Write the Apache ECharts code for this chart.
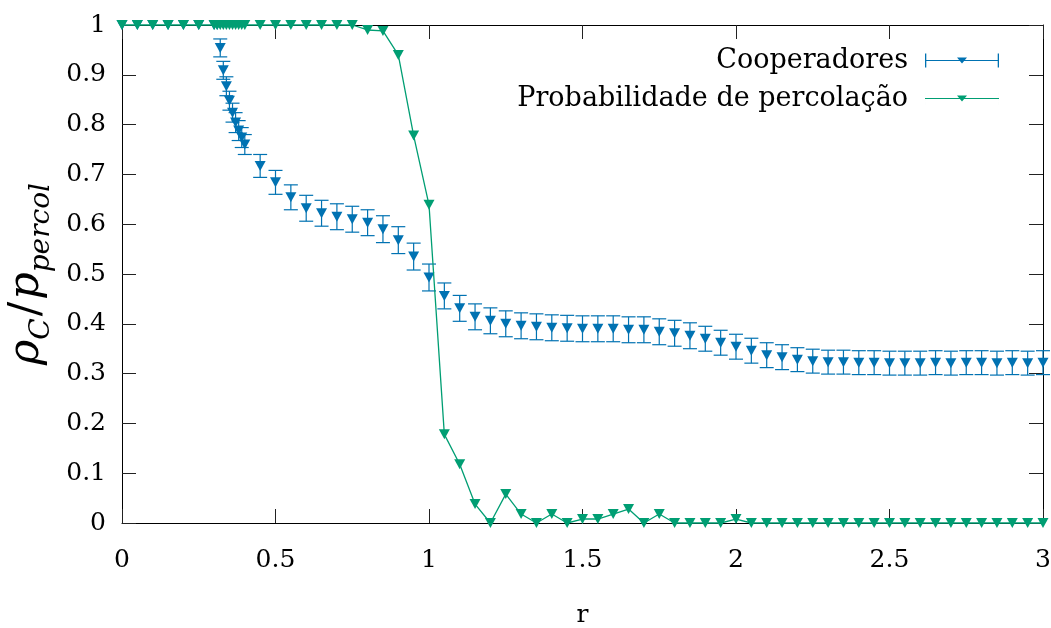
<!DOCTYPE html>
<html>
<head>
<meta charset="utf-8">
<script src="https://cdn.jsdelivr.net/npm/echarts@6/dist/echarts.min.js"></script>
<style>
  html, body { margin: 0; padding: 0; background: #fff; }
  #chart { width: 1051px; height: 628px; }
</style>
</head>
<body>
<div id="chart"></div>
<script>
// r values: coarse grid, dense grid 0.30..0.40, then coarse again
const rValues = [
    0, 0.05, 0.1, 0.15, 0.2, 0.25,
    0.30, 0.31, 0.32, 0.33, 0.34, 0.35, 0.36, 0.37, 0.38, 0.39, 0.40,
    0.45, 0.5, 0.55, 0.6, 0.65, 0.7, 0.75, 0.8, 0.85, 0.9, 0.95,
    1.0, 1.05, 1.1, 1.15, 1.2, 1.25, 1.3, 1.35, 1.4, 1.45,
    1.5, 1.55, 1.6, 1.65, 1.7, 1.75, 1.8, 1.85, 1.9, 1.95,
    2.0, 2.05, 2.1, 2.15, 2.2, 2.25, 2.3, 2.35, 2.4, 2.45,
    2.5, 2.55, 2.6, 2.65, 2.7, 2.75, 2.8, 2.85, 2.9, 2.95, 3.0
];

// Cooperadores (rho_C)
const coopValues = [
    1, 1, 1, 1, 1, 1,
    1, 1, 0.954, 0.909, 0.877, 0.848, 0.824, 0.804, 0.788, 0.774, 0.760,
    0.717, 0.684, 0.654, 0.632, 0.622, 0.615, 0.610, 0.603, 0.590, 0.568, 0.535,
    0.493, 0.456, 0.431, 0.414, 0.406, 0.400, 0.396, 0.394, 0.392, 0.391,
    0.390, 0.390, 0.390, 0.388, 0.388, 0.384, 0.381, 0.376, 0.370, 0.362,
    0.354, 0.346, 0.337, 0.333, 0.328, 0.325, 0.323, 0.323, 0.322, 0.322,
    0.321, 0.321, 0.321, 0.322, 0.321, 0.322, 0.322, 0.321, 0.322, 0.321, 0.322
];
const coopErrors = [
    0, 0, 0, 0, 0, 0,
    0, 0, 0.018, 0.018, 0.019, 0.019, 0.019, 0.02, 0.02, 0.02, 0.02,
    0.023, 0.024, 0.025, 0.026, 0.026, 0.026, 0.026, 0.026, 0.027, 0.027, 0.027,
    0.027, 0.026, 0.026, 0.026, 0.026, 0.026, 0.026, 0.026, 0.026, 0.026,
    0.026, 0.026, 0.026, 0.026, 0.026, 0.026, 0.026, 0.026, 0.025, 0.025,
    0.025, 0.025, 0.025, 0.025, 0.024, 0.024, 0.024, 0.024, 0.024, 0.024,
    0.024, 0.024, 0.024, 0.024, 0.024, 0.024, 0.024, 0.024, 0.024, 0.024, 0.024
];

// Probabilidade de percolacao
const percValues = [
    1, 1, 1, 1, 1, 1,
    1, 1, 1, 1, 1, 1, 1, 1, 1, 1, 1,
    1, 1, 1, 1, 1, 1, 1, 0.99, 0.988, 0.94, 0.778,
    0.639, 0.178, 0.118, 0.038, 0, 0.058, 0.018, 0, 0.018, 0,
    0.008, 0.008, 0.018, 0.028, 0, 0.018, 0, 0, 0, 0,
    0.008, 0, 0, 0, 0, 0, 0, 0, 0, 0,
    0, 0, 0, 0, 0, 0, 0, 0, 0, 0, 0
];

const blue = '#0072b2';
const green = '#009e73';
const font = 'DejaVu Serif';

const coopData = rValues.map((r, i) => [r, coopValues[i], coopErrors[i]]);
const percData = rValues.map((r, i) => [r, percValues[i]]);

let myChart = echarts.init(document.getElementById('chart'));

function errorBar(params, api) {
    let x = api.value(0), y = api.value(1), e = api.value(2);
    if (!e) return;
    let top = api.coord([x, y + e]);
    let bot = api.coord([x, y - e]);
    let w = 7;
    let st = { stroke: blue, lineWidth: 1.2 };
    return {
        type: 'group',
        children: [
            { type: 'line', shape: { x1: top[0], y1: top[1], x2: bot[0], y2: bot[1] }, style: st },
            { type: 'line', shape: { x1: top[0] - w, y1: top[1], x2: top[0] + w, y2: top[1] }, style: st },
            { type: 'line', shape: { x1: bot[0] - w, y1: bot[1], x2: bot[0] + w, y2: bot[1] }, style: st }
        ]
    };
}

const axisCommon = {
    axisLine: { show: true, onZero: false, lineStyle: { color: '#000', width: 1 } },
    axisTick: { show: true, inside: true, length: 14, lineStyle: { color: '#222', width: 1 } },
    splitLine: { show: false }
};

let option = {
    backgroundColor: '#fff',
    animation: false,
    grid: { left: 122, right: 8, top: 25, bottom: 105, outerBoundsMode: 'none' },
    legend: [
        {
            data: [{ name: 'Cooperadores', itemStyle: { color: blue } }],
            right: 47,
            top: 42,
            align: 'right',
            selectedMode: false,
            itemWidth: 74,
            itemHeight: 14,
            icon: 'path://M0,0h1.3v14h-1.3z M0,6.4h74v1.2h-74z M72.7,0h1.3v14h-1.3z M32,4h10l-5,6z',
            textStyle: { fontFamily: font, fontSize: 27, color: '#000', padding: [0, 12, 0, 0] }
        },
        {
            data: [{ name: 'Probabilidade de percolação', itemStyle: { color: green } }],
            right: 47,
            top: 80,
            align: 'right',
            selectedMode: false,
            itemWidth: 74,
            itemHeight: 14,
            icon: 'path://M0,0h0.01v14h-0.01z M0,6.4h74v1.2h-74z M73.99,0h0.01v14h-0.01z M32,4h10l-5,6z',
            textStyle: { fontFamily: font, fontSize: 27, color: '#000', padding: [0, 12, 0, 0] }
        }
    ],
    xAxis: [
        Object.assign({
            type: 'value', position: 'bottom', min: 0, max: 3, interval: 0.5,
            name: 'r', nameLocation: 'middle', nameGap: 80,
            nameTextStyle: { fontFamily: font, fontSize: 25, color: '#000' },
            axisLabel: { fontFamily: font, fontSize: 25, color: '#000', margin: 25 }
        }, axisCommon),
        Object.assign({
            type: 'value', position: 'top', min: 0, max: 3, interval: 0.5,
            axisLabel: { show: false }
        }, axisCommon)
    ],
    yAxis: [
        Object.assign({
            type: 'value', position: 'left', min: 0, max: 1, interval: 0.1,
            name: '{a|ρ}{b|C}{c|/}{a|p}{b|percol}',
            nameLocation: 'middle', nameGap: 62, nameRotate: 90,
            nameTextStyle: {
                color: '#000',
                rich: {
                    a: { fontFamily: font, fontStyle: 'italic', fontSize: 43, color: '#000', verticalAlign: 'bottom', padding: [0, 0, 7, 0] },
                    b: { fontFamily: font, fontStyle: 'italic', fontSize: 28, color: '#000', verticalAlign: 'bottom' },
                    c: { fontFamily: font, fontSize: 43, color: '#000', verticalAlign: 'bottom', padding: [0, 2, 7, 2] }
                }
            },
            axisLabel: { fontFamily: font, fontSize: 25, color: '#000', margin: 16 }
        }, axisCommon),
        Object.assign({
            type: 'value', position: 'right', min: 0, max: 1, interval: 0.1,
            axisLabel: { show: false }
        }, axisCommon)
    ],
    series: [
        {
            name: 'Cooperadores',
            type: 'custom',
            renderItem: errorBar,
            data: coopData,
            encode: { x: 0, y: 1 },
            clip: false,
            z: 1
        },
        {
            name: 'Cooperadores',
            type: 'scatter',
            data: coopData,
            symbol: 'triangle',
            symbolRotate: 180,
            symbolSize: [11, 10],
            itemStyle: { color: blue, opacity: 1 },
            clip: false,
            z: 2
        },
        {
            name: 'Probabilidade de percolação',
            type: 'line',
            data: percData,
            symbol: 'triangle',
            symbolRotate: 180,
            symbolSize: [11, 10],
            showAllSymbol: true,
            lineStyle: { color: green, width: 1.3 },
            itemStyle: { color: green },
            clip: false,
            z: 3
        }
    ]
};

myChart.setOption(option);
</script>
</body>
</html>
